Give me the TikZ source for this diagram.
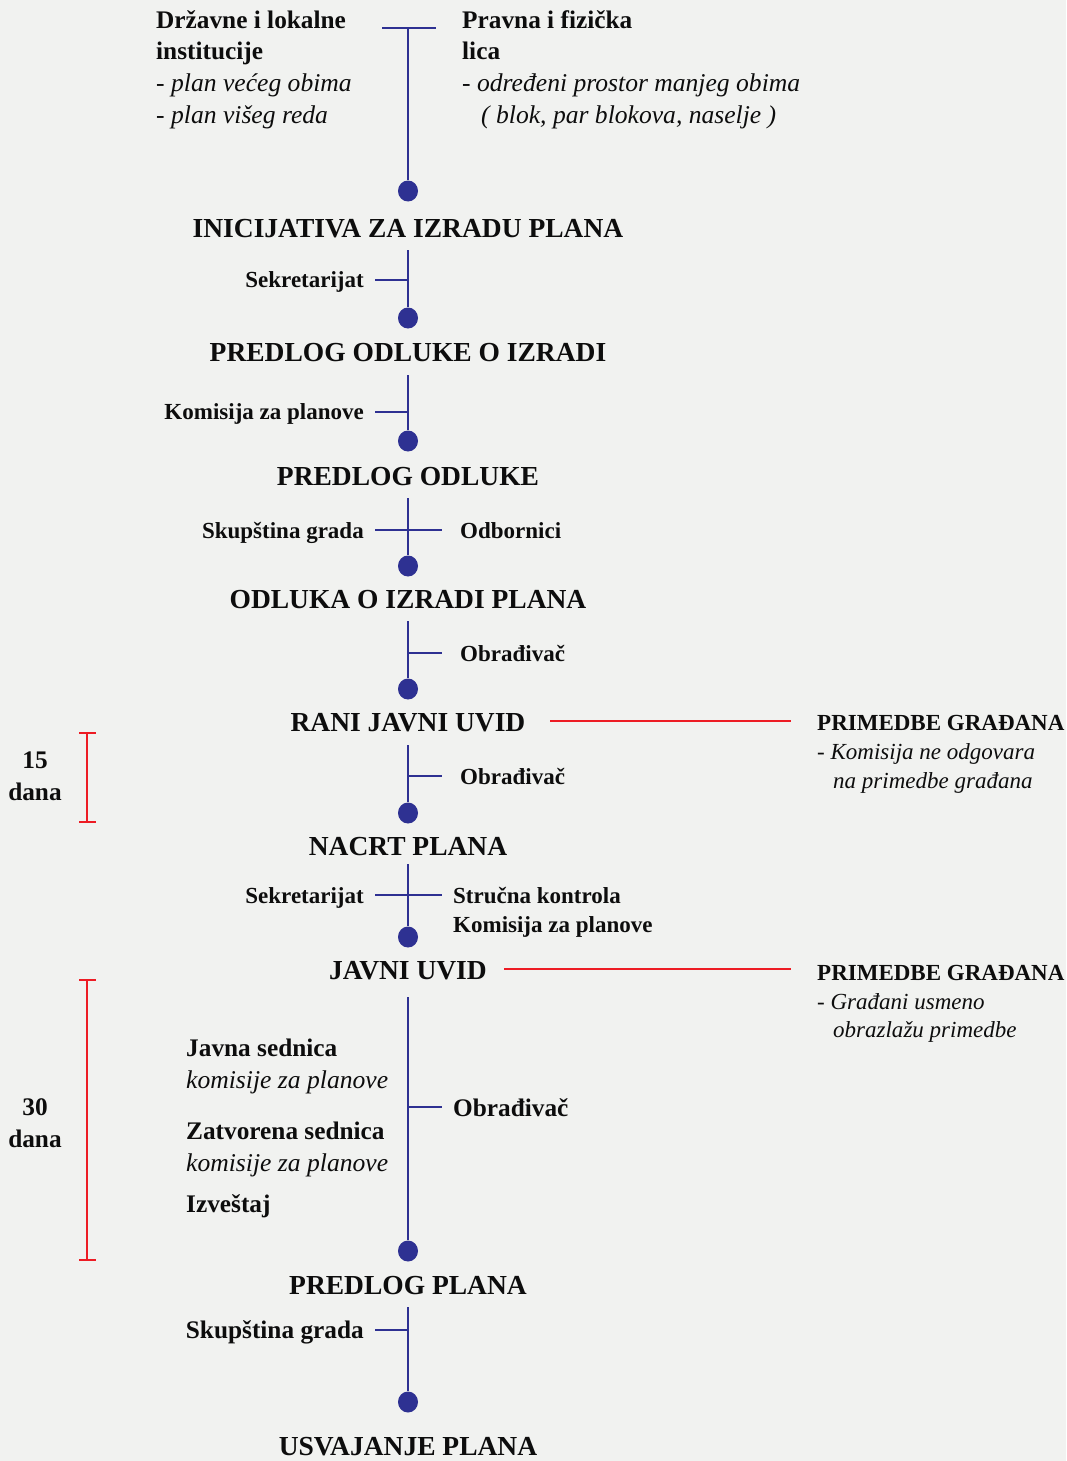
\documentclass[tikz,border=0pt]{standalone}
\usepackage{fontspec}
\usetikzlibrary{shapes.geometric}
\setmainfont{Liberation Serif}
\definecolor{bg}{HTML}{F1F2F0}
\definecolor{flow}{HTML}{2E3192}
\definecolor{warn}{HTML}{ED1C24}
\definecolor{ink}{HTML}{0D0D0D}
\begin{document}
\begin{tikzpicture}[x=1pt,y=-1pt,
  ttl/.style={font=\fontsize{27.5}{30}\selectfont\bfseries, anchor=base, inner sep=0pt, text=ink},
  lab/.style={font=\fontsize{23}{26}\selectfont\bfseries, inner sep=0pt, text=ink},
  biglab/.style={font=\fontsize{25.3}{30}\selectfont\bfseries, inner sep=0pt, text=ink},
  itl/.style={font=\fontsize{25.6}{30}\selectfont\itshape, inner sep=0pt, text=ink},
  smitl/.style={font=\fontsize{23}{26}\selectfont\itshape, inner sep=0pt, text=ink},
  spine/.style={draw=flow, line width=2.7pt},
  dotnode/.style={ellipse, fill=flow, minimum width=20pt, minimum height=21pt, inner sep=0pt},
  redln/.style={draw=warn, line width=2.8pt}
]
\fill[bg] (0,0) rectangle (1066,1461);
\useasboundingbox (0,0) rectangle (1066,1461);

% ---------- top block ----------
\node[biglab, anchor=base west] (dl1) at (156,29) {Državne i lokalne};
\node[biglab, anchor=base west] (dl2) at (156,60) {institucije};
\node[itl, anchor=base west] (dl3) at (156,92) {- plan većeg obima};
\node[itl, anchor=base west] (dl4) at (156,124) {- plan višeg reda};
\node[biglab, anchor=base west] (pf1) at (462,29) {Pravna i fizička};
\node[biglab, anchor=base west] (pf2) at (462,60) {lica};
\node[itl, anchor=base west] (pf3) at (462,92) {- određeni prostor manjeg obima};
\node[itl, anchor=base west] (pf4) at (481,124) {( blok, par blokova, naselje )};

\coordinate (t0) at (408,28);
\coordinate (t0l) at (382,28);
\coordinate (t0r) at (436,28);
\node[dotnode] (d0) at (408,191) {};
\draw[spine] (t0l) -- (t0r);
\draw[spine] (t0) -- (d0);

% ---------- titles ----------
\node[ttl] (n1) at (408,237) {INICIJATIVA ZA IZRADU PLANA};
\node[ttl] (n2) at (408,361) {PREDLOG ODLUKE O IZRADI};
\node[ttl] (n3) at (408,485) {PREDLOG ODLUKE};
\node[ttl] (n4) at (408,608) {ODLUKA O IZRADI PLANA};
\node[ttl] (n5) at (408,731) {RANI JAVNI UVID};
\node[ttl] (n6) at (408,855) {NACRT PLANA};
\node[ttl] (n7) at (408,979) {JAVNI UVID};
\node[ttl] (n8) at (408,1294) {PREDLOG PLANA};
\node[ttl] (n9) at (408,1455) {USVAJANJE PLANA};

% ---------- segment 1 ----------
\coordinate (c1) at (408,250);
\node[dotnode] (d1) at (408,318) {};
\draw[spine] (c1) -- (d1);
\coordinate (k1) at (408,280); \coordinate (k1l) at (375,280);
\draw[spine] (k1) -- (k1l);
\node[lab, anchor=base east] (l1) at (364,287) {Sekretarijat};

% ---------- segment 2 ----------
\coordinate (c2) at (408,375);
\node[dotnode] (d2) at (408,441) {};
\draw[spine] (c2) -- (d2);
\coordinate (k2) at (408,412); \coordinate (k2l) at (375,412);
\draw[spine] (k2) -- (k2l);
\node[lab, anchor=base east] (l2) at (364,419) {Komisija za planove};

% ---------- segment 3 ----------
\coordinate (c3) at (408,498);
\node[dotnode] (d3) at (408,566) {};
\draw[spine] (c3) -- (d3);
\coordinate (k3l) at (375,530); \coordinate (k3r) at (442,530);
\draw[spine] (k3l) -- (k3r);
\node[lab, anchor=base east] (l3) at (364,538) {Skupština grada};
\node[lab, anchor=base west] (r3) at (460,538) {Odbornici};

% ---------- segment 4 ----------
\coordinate (c4) at (408,621);
\node[dotnode] (d4) at (408,689) {};
\draw[spine] (c4) -- (d4);
\coordinate (k4) at (408,653); \coordinate (k4r) at (442,653);
\draw[spine] (k4) -- (k4r);
\node[lab, anchor=base west] (r4) at (460,661) {Obrađivač};

% ---------- segment 5 ----------
\coordinate (c5) at (408,745);
\node[dotnode] (d5) at (408,813) {};
\draw[spine] (c5) -- (d5);
\coordinate (k5) at (408,776); \coordinate (k5r) at (442,776);
\draw[spine] (k5) -- (k5r);
\node[lab, anchor=base west] (r5) at (460,784) {Obrađivač};

% ---------- segment 6 ----------
\coordinate (c6) at (408,864);
\node[dotnode] (d6) at (408,937) {};
\draw[spine] (c6) -- (d6);
\coordinate (k6l) at (375,895); \coordinate (k6r) at (442,895);
\draw[spine] (k6l) -- (k6r);
\node[lab, anchor=base east] (l6) at (364,903) {Sekretarijat};
\node[lab, anchor=base west] (r6a) at (453,903) {Stručna kontrola};
\node[lab, anchor=base west] (r6b) at (453,932) {Komisija za planove};

% ---------- segment 7 ----------
\coordinate (c7) at (408,997);
\node[dotnode] (d7) at (408,1251) {};
\draw[spine] (c7) -- (d7);
\coordinate (k7) at (408,1107); \coordinate (k7r) at (442,1107);
\draw[spine] (k7) -- (k7r);
\node[biglab, anchor=base west] (r7) at (453,1116) {Obrađivač};
\node[biglab, anchor=base west] (s1) at (186,1056) {Javna sednica};
\node[itl, anchor=base west] (s2) at (186,1088) {komisije za planove};
\node[biglab, anchor=base west] (s3) at (186,1139) {Zatvorena sednica};
\node[itl, anchor=base west] (s4) at (186,1171) {komisije za planove};
\node[biglab, anchor=base west] (s5) at (186,1212) {Izveštaj};

% ---------- segment 8 ----------
\coordinate (c8) at (408,1307);
\node[dotnode] (d8) at (408,1402) {};
\draw[spine] (c8) -- (d8);
\coordinate (k8) at (408,1330); \coordinate (k8l) at (375,1330);
\draw[spine] (k8) -- (k8l);
\node[biglab, anchor=base east] (l8) at (364,1338) {Skupština grada};

% ---------- citizens' remarks ----------
\coordinate (ra) at (550,721); \coordinate (rb) at (791,721);
\draw[redln] (ra) -- (rb);
\node[lab, anchor=base west] (p1) at (817,730) {PRIMEDBE GRAĐANA};
\node[smitl, anchor=base west] (p1a) at (817,759) {- Komisija ne odgovara};
\node[smitl, anchor=base west] (p1b) at (833,788) {na primedbe građana};

\coordinate (rc) at (504,969); \coordinate (rd) at (791,969);
\draw[redln] (rc) -- (rd);
\node[lab, anchor=base west] (p2) at (817,980) {PRIMEDBE GRAĐANA};
\node[smitl, anchor=base west] (p2a) at (817,1009) {- Građani usmeno};
\node[smitl, anchor=base west] (p2b) at (833,1037) {obrazlažu primedbe};

% ---------- time brackets ----------
\coordinate (b1t) at (87,733); \coordinate (b1b) at (87,822);
\draw[redln] (b1t) -- (b1b);
\draw[redln] (79,733) -- (96,733);
\draw[redln] (79,822) -- (96,822);
\node[biglab, anchor=base] (q1) at (35,768) {15};
\node[biglab, anchor=base] (q2) at (35,800) {dana};

\coordinate (b2t) at (87,980); \coordinate (b2b) at (87,1260);
\draw[redln] (b2t) -- (b2b);
\draw[redln] (79,980) -- (96,980);
\draw[redln] (79,1260) -- (96,1260);
\node[biglab, anchor=base] (q3) at (35,1115) {30};
\node[biglab, anchor=base] (q4) at (35,1147) {dana};
\end{tikzpicture}
\end{document}
